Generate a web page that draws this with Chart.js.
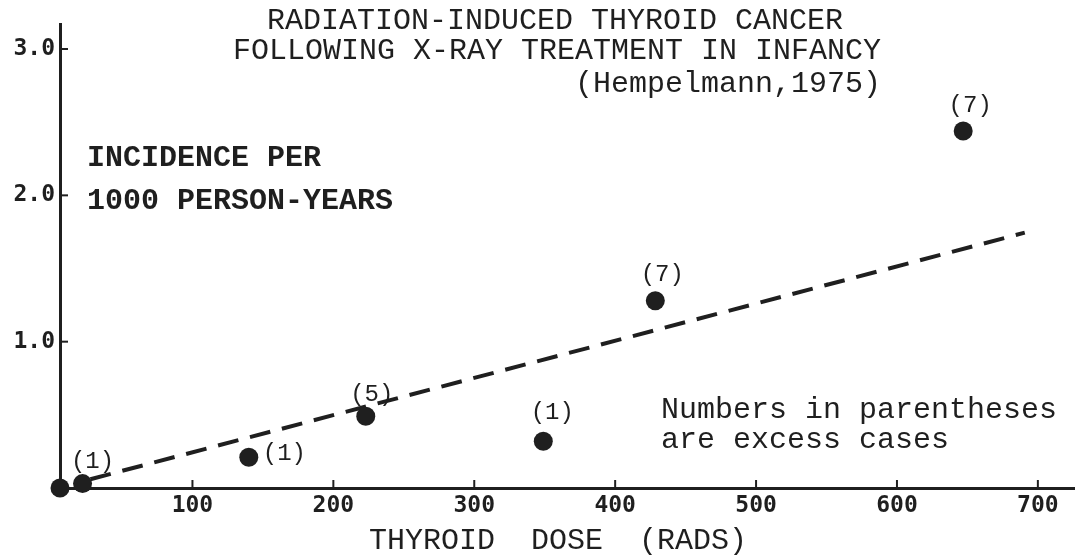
<!DOCTYPE html>
<html><head><meta charset="utf-8">
<script src="https://cdn.jsdelivr.net/npm/chart.js@4.4.1/dist/chart.umd.min.js"></script>
<style>html,body{margin:0;padding:0;background:#fff;} #wrap{width:1084px;height:560px;}</style>
</head><body><div id="wrap"><canvas id="c" width="1084" height="560"></canvas></div>
<script>
// ---- data ----
const doses = [6, 22, 140, 223, 349, 428.5, 647];
const incidence = [0, 0.03, 0.21, 0.49, 0.32, 1.28, 2.44];
const excessCases = ["", "(1)", "(1)", "(5)", "(1)", "(7)", "(7)"];
const fitDoses = [27.6, 690.7];
const fitIncidence = [0.06, 1.745];
const xTickValues = [100, 200, 300, 400, 500, 600, 700];
const yTickValues = [1, 2, 3];
const titleLines = ["RADIATION-INDUCED THYROID CANCER", "FOLLOWING X-RAY TREATMENT IN INFANCY", "(Hempelmann,1975)"];
const yAxisNote = ["INCIDENCE PER", "1000 PERSON-YEARS"];
const footNote = ["Numbers in parentheses", "are excess cases"];
const xAxisTitle = "THYROID  DOSE  (RADS)";

// ---- styling ----
const ink = '#1f1f1f';
const mono = '"Liberation Mono", "Courier New", monospace';
const tickFont = {family: '"DejaVu Sans Mono", monospace', weight: 'bold', size: 23};
const labelOffsets = [null, [10, -22, 'center'], [14, -4, 'left'], [6, -22, 'center'], [9, -29, 'center'], [7, -26, 'center'], [7, -25, 'center']];

const annot = {
  id: 'annot',
  afterDatasetsDraw(chart) {
    const {ctx, scales: {x, y}} = chart;
    ctx.save();
    ctx.fillStyle = ink; ctx.strokeStyle = ink; ctx.lineWidth = 2;
    // inward tick marks
    xTickValues.forEach(v => { const px = x.getPixelForValue(v); ctx.beginPath(); ctx.moveTo(px, y.bottom); ctx.lineTo(px, y.bottom - 8); ctx.stroke(); });
    yTickValues.forEach(v => { const py = y.getPixelForValue(v); ctx.beginPath(); ctx.moveTo(x.left, py); ctx.lineTo(x.left + 8, py); ctx.stroke(); });
    // excess-case labels
    ctx.font = '24px ' + mono;
    ctx.textBaseline = 'middle';
    chart.getDatasetMeta(0).data.forEach((pt, i) => {
      const lab = excessCases[i]; const o = labelOffsets[i];
      if (!lab || !o) return;
      ctx.textAlign = o[2];
      ctx.fillText(lab, pt.x + o[0], pt.y + o[1]);
    });
    // title
    ctx.font = '30px ' + mono;
    ctx.textAlign = 'center';
    ctx.fillText(titleLines[0], 555, 21);
    ctx.fillText(titleLines[1], 557, 51);
    ctx.textAlign = 'right';
    ctx.fillText(titleLines[2], 881, 84);
    // y-axis note
    ctx.font = 'bold 30px ' + mono;
    ctx.textAlign = 'left';
    ctx.fillText(yAxisNote[0], 87, 158);
    ctx.fillText(yAxisNote[1], 87, 201);
    // footnote
    ctx.font = '30px ' + mono;
    ctx.fillText(footNote[0], 661, 410);
    ctx.fillText(footNote[1], 661, 440);
    // x-axis title
    ctx.textAlign = 'center';
    ctx.fillText(xAxisTitle, 558, 541);
    ctx.restore();
  }
};

new Chart(document.getElementById('c'), {
  type: 'scatter',
  data: {
    datasets: [
      {
        label: 'Incidence',
        data: doses.map((d, i) => ({x: d, y: incidence[i]})),
        pointRadius: 9.5, pointHoverRadius: 9.5,
        backgroundColor: ink, borderWidth: 0,
        showLine: false, clip: false, order: 0
      },
      {
        type: 'line',
        label: 'Fit',
        data: fitDoses.map((d, i) => ({x: d, y: fitIncidence[i]})),
        borderColor: ink, borderWidth: 4, borderDash: [21, 12],
        pointRadius: 0, fill: false, clip: false, order: 1
      }
    ]
  },
  options: {
    responsive: false, animation: false,
    layout: {padding: {top: 24, right: 4, left: 0, bottom: 0}},
    plugins: {legend: {display: false}, tooltip: {enabled: false}, title: {display: false}},
    scales: {
      x: {
        type: 'linear', position: 'bottom', min: 6, max: 726,
        grid: {display: false, drawTicks: false},
        border: {display: true, color: ink, width: 3},
        afterBuildTicks: s => { s.ticks = xTickValues.map(v => ({value: v})); },
        afterFit: s => { s.height = 72; },
        ticks: {font: tickFont, color: ink, padding: 4, maxRotation: 0, autoSkip: false, callback: v => String(v)}
      },
      y: {
        type: 'linear', min: 0, max: 3.171,
        grid: {display: false, drawTicks: false},
        border: {display: true, color: ink, width: 3},
        afterBuildTicks: s => { s.ticks = yTickValues.map(v => ({value: v})); },
        afterFit: s => { s.width = 60; },
        ticks: {font: tickFont, color: ink, padding: 5, autoSkip: false, callback: v => v.toFixed(1)}
      }
    }
  },
  plugins: [annot]
});
</script>
</body></html>
